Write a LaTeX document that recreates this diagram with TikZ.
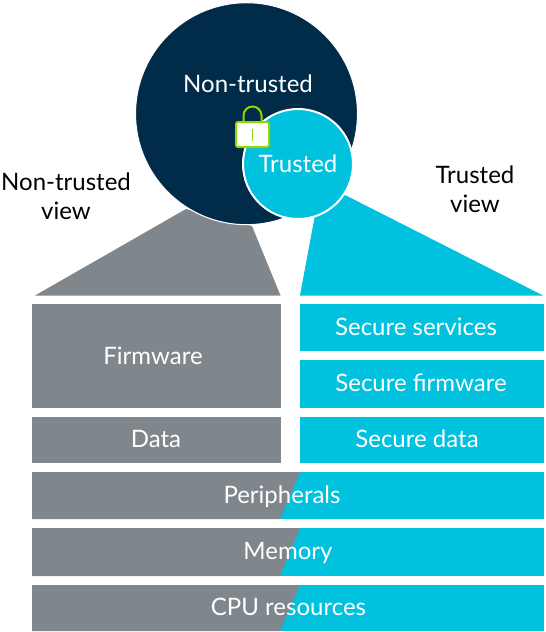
\documentclass[tikz,border=0pt]{standalone}
\usepackage{fontspec}
\setmainfont{Lato}
\definecolor{greyblock}{HTML}{7F868C}
\definecolor{cyanblock}{HTML}{00C1DE}
\definecolor{navyblock}{HTML}{002B49}
\definecolor{lockgreen}{HTML}{95D600}
\tikzset{
  lbl/.style={text=white,font=\fontsize{18pt}{22pt}\selectfont,inner sep=0pt,anchor=center},
  blk/.style={text=black,font=\fontsize{18pt}{21.5pt}\selectfont,inner sep=0pt,align=center},
  greybox/.style={fill=greyblock},
  cyanbox/.style={fill=cyanblock},
}
\begin{document}
\begin{tikzpicture}[x=0.75pt,y=-0.75pt]
\useasboundingbox (0,0) rectangle (546,632);
% funnels
\fill[greyblock] (35,295.5) -- (186,209) -- (252,226) -- (280.5,295.5) -- cycle;
\fill[cyanblock] (300,295.5) -- (315,215) -- (345,195) -- (543,295.5) -- cycle;
% circles
\fill[navyblock,draw=white,line width=0.8pt] (246.5,113.7) circle (111);
\fill[cyanblock,draw=white,line width=1.5pt] (298,164) circle (55);
% lock
\draw[lockgreen,line width=1.5pt] (243.5,122) -- (243.5,115.5) arc[start angle=180,end angle=360,radius=9] -- (261.5,122);
\fill[white,draw=lockgreen,line width=1.5pt,rounded corners=1.5pt] (236,122) rectangle (269,147);
\draw[lockgreen,line width=1pt] (252.7,129) -- (252.7,141);
% upper blocks
\fill[greybox] (32,304) rectangle (281,408);
\fill[greybox] (32,417) rectangle (281,463);
\fill[cyanbox] (300,304) rectangle (544,351);
\fill[cyanbox] (300,360) rectangle (544,408);
\fill[cyanbox] (300,417) rectangle (544,463);
% shared bars
\fill[cyanbox] (32,472) rectangle (544,519);
\fill[greybox] (32,472) -- (300,472) -- (280,519) -- (32,519) -- cycle;
\fill[cyanbox] (32,528) rectangle (544,576);
\fill[greybox] (32,528) -- (300,528) -- (280,576) -- (32,576) -- cycle;
\fill[cyanbox] (32,585) rectangle (544,631);
\fill[greybox] (32,585) -- (300,585) -- (280,631) -- (32,631) -- cycle;
% labels
\node[lbl] (nt) at (248,84) {Non-trusted};
\node[lbl] (tr) at (298,164) {Trusted};
\node[blk] (ntv) at (66,196.5) {Non-trusted\\view};
\node[blk] (trv) at (475,189.5) {Trusted\\view};
\node[lbl] (fw) at (153,355.5) {Firmware};
\node[lbl] (da) at (156,439) {Data};
\node[lbl] (ss) at (416,326.5) {Secure services};
\node[lbl] (sf) at (421,383) {Secure firmware};
\node[lbl] (sd) at (417,439) {Secure data};
\node[lbl] (pe) at (282,496.5) {Peripherals};
\node[lbl] (me) at (288,552.5) {Memory};
\node[lbl] (cp) at (288.5,606.5) {CPU resources};
\end{tikzpicture}
\end{document}
